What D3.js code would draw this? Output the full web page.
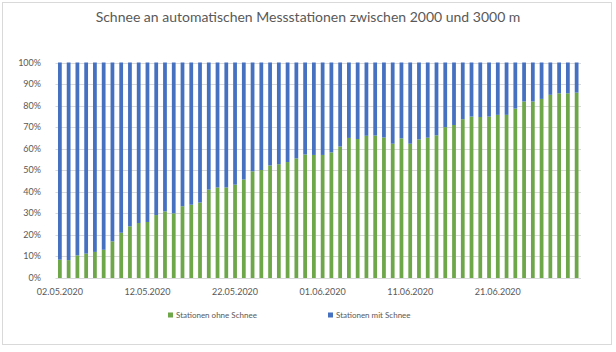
<!DOCTYPE html>
<html>
<head>
<meta charset="utf-8">
<script src="https://cdn.jsdelivr.net/npm/d3@7"></script>
<style>
  body { margin: 0; background: #fff; }
  text { font-family: Lato, "Open Sans", sans-serif; fill: #595959; }
</style>
</head>
<body>
<div class="chart"></div>
<script>
const w = 616;
const h = 352;

// share of stations without snow (%), one value per day 02.05.2020 - 30.06.2020
const ohneSchnee = [
  8.5, 8.3, 10.5, 11.3, 12.1, 13.1, 17, 21, 24, 25.5,
  26, 29.2, 30.9, 30, 33.3, 34, 35, 41, 42, 42,
  43.3, 45.7, 49.5, 50.1, 52.2, 52.8, 53.8, 55.5, 57.3, 57.1,
  57.1, 58.3, 61, 65, 64.5, 66, 66.1, 65.2, 62.3, 64.8,
  62.3, 64.3, 65.1, 66.2, 70, 71, 73.7, 74.9, 74.7, 74.9,
  75.7, 75.7, 78.6, 81.9, 81.9, 83.1, 85, 85.7, 85.7, 86
];
const days = d3.timeDays(new Date(2020, 4, 2), new Date(2020, 6, 1));
const yTicks = [0, 10, 20, 30, 40, 50, 60, 70, 80, 90, 100];
const seriesNames = ["Stationen ohne Schnee", "Stationen mit Schnee"];
const colors = ["#6ea64a", "#4571c0"];

const fmt = d3.timeFormat("%d.%m.%Y");

const data = days.map((d, i) => ({ date: d, ohne: ohneSchnee[i], mit: 100 - ohneSchnee[i] }));

const svg = d3.select(".chart")
  .append("svg")
  .attr("width", w)
  .attr("height", h);

// outer frame
svg.append("rect")
  .attr("x", 2.5).attr("y", 2.5)
  .attr("width", 609).attr("height", 342)
  .attr("fill", "none")
  .attr("stroke", "#d9d9d9");

const x = d3.scaleBand()
  .domain(days.map(fmt))
  .range([55.5, 581])
  .paddingInner(0.57)
  .paddingOuter(0.285);

const y = d3.scaleLinear()
  .domain([0, 100])
  .range([278, 62.5]);

// gridlines
svg.append("g")
  .selectAll("line")
  .data(yTicks)
  .enter().append("line")
  .attr("x1", 55.5)
  .attr("x2", 581)
  .attr("y1", d => Math.round(y(d)) + 0.5)
  .attr("y2", d => Math.round(y(d)) + 0.5)
  .attr("stroke", "#d9d9d9");

const stack = d3.stack().keys(["ohne", "mit"]);
const layers = stack(data);

svg.append("g")
  .selectAll("g")
  .data(layers)
  .enter().append("g")
  .attr("fill", (d, i) => colors[i])
  .selectAll("rect")
  .data(d => d)
  .enter().append("rect")
  .attr("x", d => x(fmt(d.data.date)))
  .attr("width", x.bandwidth())
  .attr("y", d => y(d[1]))
  .attr("height", d => y(d[0]) - y(d[1]));

// y axis labels
svg.append("g")
  .selectAll("text")
  .data(yTicks)
  .enter().append("text")
  .attr("x", 41)
  .attr("y", d => y(d) + 3)
  .attr("font-size", "9px")
  .style("text-anchor", "end")
  .text(d => d + "%");

// x axis labels, every 10th day
svg.append("g")
  .selectAll("text")
  .data(days.filter((d, i) => i % 10 === 0))
  .enter().append("text")
  .attr("x", d => x(fmt(d)) + x.bandwidth() / 2)
  .attr("y", 295)
  .attr("font-size", "9px")
  .style("text-anchor", "middle")
  .text(d => fmt(d));

// title
svg.append("text")
  .attr("x", 308)
  .attr("y", 22)
  .attr("font-size", "14px")
  .style("text-anchor", "middle")
  .text("Schnee an automatischen Messstationen zwischen 2000 und 3000 m");

// legend
const legendX = [168, 328];
const legend = svg.append("g")
  .selectAll("g")
  .data(seriesNames)
  .enter().append("g")
  .attr("transform", (d, i) => "translate(" + legendX[i] + ",315)");

legend.append("rect")
  .attr("x", 0).attr("y", -2.5)
  .attr("width", 5).attr("height", 5)
  .attr("fill", (d, i) => colors[i]);

legend.append("text")
  .attr("x", 8)
  .attr("y", 3)
  .attr("font-size", "8px")
  .text(d => d);
</script>
</body>
</html>
